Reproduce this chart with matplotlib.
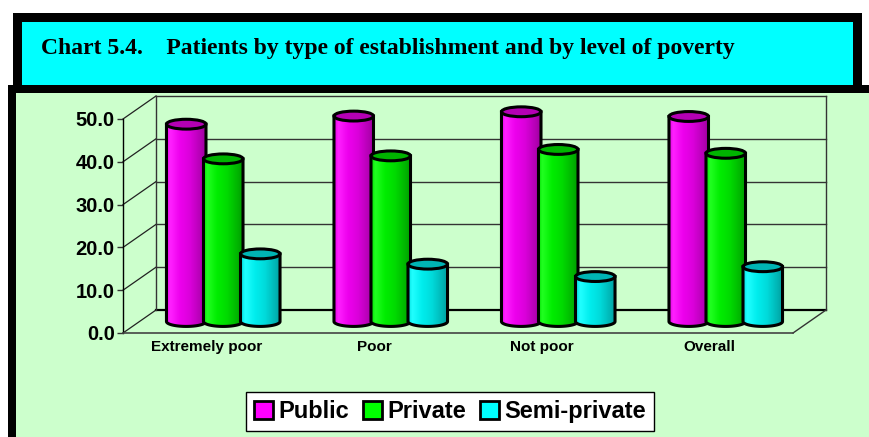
import numpy as np
import matplotlib
matplotlib.use("Agg")
import matplotlib.pyplot as plt
from matplotlib.patches import Rectangle, Ellipse, Polygon, Patch
from matplotlib.colors import LinearSegmentedColormap, to_rgb

# Patients (%) by type of establishment, per poverty level
categories = ["Extremely poor", "Poor", "Not poor", "Overall"]
series = ["Public", "Private", "Semi-private"]
public = [46.1, 48.0, 49.0, 47.9]
private = [38.0, 38.7, 40.2, 39.3]
semi_private = [15.8, 13.4, 10.5, 12.8]
y_ticks = [0, 10, 20, 30, 40, 50]

values = [public, private, semi_private]
# body colour, lid colour
COLORS = [("#ff00ff", "#b400b4"), ("#00ff00", "#00b400"), ("#00ffff", "#00b4b4")]

W, H = 869, 437
SANS = "Liberation Sans"

fig = plt.figure(figsize=(W / 100, H / 100), dpi=100, facecolor="white")


def frame_rect(x0, y0, x1, y1, color):
    """Rectangle given in pixels from the top-left corner of the figure."""
    fig.add_artist(Rectangle((x0 / W, 1 - y1 / H), (x1 - x0) / W, (y1 - y0) / H,
                             transform=fig.transFigure, facecolor=color,
                             edgecolor="none", zorder=-5))


# title banner and the green chart panel
frame_rect(13, 13, 862, 86, "black")
frame_rect(22, 22, 853, 86, "#00ffff")
frame_rect(8, 85, W, H, "black")
frame_rect(16, 93, W, H, "#ccffcc")
fig.text(41 / W, 1 - 54 / H,
         "Chart 5.4.    Patients by type of establishment and by level of poverty",
         family="Liberation Serif", fontweight="bold", fontsize=17, va="baseline")

# front plane of the box: x in category units, y in percent
PX_PER_UNIT = 214 / 50
ax = fig.add_axes([123 / W, 1 - 333 / H, 670 / W, 60 * PX_PER_UNIT / H])
ax.set_facecolor("none")

DX = 33 / 167.5          # depth offset, category units
DY = 23 / PX_PER_UNIT    # depth offset, percent units
BAR_W = 0.236
STEP = 0.221
LID_H = 2.3

# back wall, side wall and floor
for v in y_ticks:
    lw, col = (1.6, "black") if v == 0 else (1.0, "#333333")
    ax.plot([-0.5 + DX, 3.5 + DX], [v + DY, v + DY], color=col, lw=lw,
            clip_on=False, zorder=1)
    ax.plot([-0.5, -0.5 + DX], [v, v + DY], color="#222222", lw=0.9,
            clip_on=False, zorder=1)
for x in (-0.5 + DX, 3.5 + DX):
    ax.plot([x, x], [DY, 50 + DY], color="#333333", lw=1.0, clip_on=False, zorder=1)
ax.plot([3.5, 3.5 + DX], [0, DY], color="#333333", lw=1.0, clip_on=False, zorder=1)


def cylinder_cmap(base):
    r, g, b = to_rgb(base)
    def shade(k):
        return (min(r * k, 1), min(g * k, 1), min(b * k, 1))
    lite = tuple(min(c + 0.13, 1) for c in (r, g, b))
    return LinearSegmentedColormap.from_list("cyl", [
        (0.0, shade(0.88)), (0.1, lite), (0.35, shade(0.93)),
        (0.6, shade(0.86)), (0.85, shade(0.72)), (1.0, shade(0.62)),
    ])


grad = np.linspace(0, 1, 64)[np.newaxis, :]
theta = np.linspace(np.pi, 2 * np.pi, 40)
for i in range(len(categories)):
    for j, (vals, (body, lid)) in enumerate(zip(values, COLORS)):
        z = 3 + 3 * i + j
        cx = i + (j - 1) * STEP + DX / 2
        base = DY / 2
        top = vals[i] + DY / 2
        half = BAR_W / 2
        verts = np.column_stack([cx + half * np.cos(theta),
                                 base + LID_H / 2 * np.sin(theta)])
        verts = np.vstack([verts, [[cx + half, top], [cx - half, top]]])
        shape = Polygon(verts, closed=True, facecolor="none", edgecolor="black",
                        lw=2.2, zorder=z + 0.1)
        ax.add_patch(shape)
        im = ax.imshow(grad, cmap=cylinder_cmap(body), aspect="auto",
                       extent=[cx - half, cx + half, base - LID_H / 2, top],
                       interpolation="bilinear", zorder=z)
        im.set_clip_path(shape)
        ax.add_patch(Ellipse((cx, top), BAR_W, LID_H, facecolor=lid,
                             edgecolor="black", lw=2.2, zorder=z + 0.2))

ax.set_xlim(-0.5, 3.5)
ax.set_ylim(0, 60)
ax.set_yticks(y_ticks)
ax.set_yticklabels([f"{v:.1f}" for v in y_ticks], family=SANS,
                   fontweight="bold", fontsize=14.5)
ax.set_xticks(range(len(categories)))
ax.set_xticklabels(categories, family=SANS, fontweight="bold", fontsize=11)
ax.tick_params(axis="y", length=4, width=1, pad=2, color="#333333")
ax.tick_params(axis="x", length=0, pad=5)
for side in ("top", "right"):
    ax.spines[side].set_visible(False)
ax.spines["left"].set_bounds(0, 50)
ax.spines["left"].set_linewidth(1.0)
ax.spines["bottom"].set_color("#444444")
ax.spines["bottom"].set_linewidth(1.2)

handles = [Patch(facecolor=c[0], edgecolor="black", lw=2, label=s)
           for s, c in zip(series, COLORS)]
leg = fig.legend(handles=handles, loc="center", bbox_to_anchor=(450 / W, 1 - 411.5 / H),
                 ncol=3, prop={"family": SANS, "weight": "bold", "size": 17},
                 frameon=True, fancybox=False, edgecolor="black", framealpha=1,
                 borderpad=0.35, handlelength=0.8, handleheight=0.8,
                 handletextpad=0.22, columnspacing=0.6)
leg.get_frame().set_linewidth(1.0)

fig.savefig("out.png", dpi=100)
